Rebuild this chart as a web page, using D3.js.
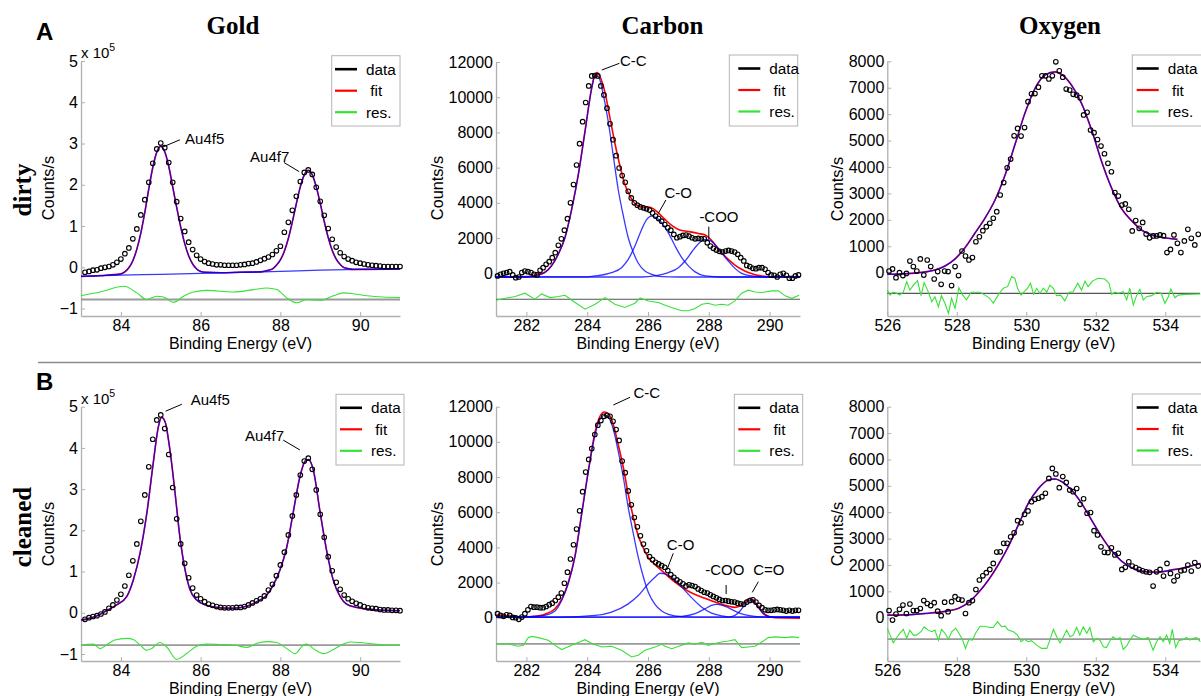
<!DOCTYPE html>
<html><head><meta charset="utf-8">
<script src="https://cdn.jsdelivr.net/npm/d3@7"></script>
<style>
body{margin:0;background:#fff;}
svg{display:block;}
text{font-family:"Liberation Sans",Arial,Helvetica,sans-serif;}
.serif{font-family:"Liberation Serif","Times New Roman",serif;font-weight:bold;}
</style></head>
<body>
<svg id="chart" width="1201" height="696"></svg>
<script>
// ---------------- DATA ----------------
const columnTitles = ["Gold", "Carbon", "Oxygen"];
const rowLabels = ["dirty", "cleaned"];
const panelLetters = ["A", "B"];
const legendLabels = ["data", " fit", "res."];

const goldTicksX = [84, 86, 88, 90];
const goldTicksY = [-1, 0, 1, 2, 3, 4, 5];
const carbonTicksX = [282, 284, 286, 288, 290];
const carbonTicksY = [0, 2000, 4000, 6000, 8000, 10000, 12000];
const oxygenTicksX = [526, 528, 530, 532, 534];
const oxygenTicksY = [0, 1000, 2000, 3000, 4000, 5000, 6000, 7000, 8000];

// measured energy grids (scan start, step, count)
const goldScan = [83.1, 0.1, 80];
const carbonScan = [281.05, 0.1, 100];
const oxygenScan = [526.05, 0.1, 90];

// Gold (x 10^5 counts/s)
const goldDirtyCounts = [-0.12,-0.10,-0.07,-0.06,-0.02,0.00,0.02,0.06,0.12,0.20,
 0.33,0.47,0.69,0.93,1.27,1.64,2.06,2.52,2.87,3.01,
 2.90,2.54,2.06,1.59,1.18,0.87,0.61,0.43,0.29,0.20,
 0.14,0.10,0.08,0.06,0.06,0.05,0.05,0.05,0.05,0.06,
 0.07,0.09,0.10,0.13,0.17,0.21,0.25,0.31,0.40,0.51,
 0.85,1.09,1.38,1.72,2.08,2.30,2.36,2.25,1.94,1.60,
 1.26,0.94,0.68,0.49,0.35,0.26,0.20,0.16,0.12,0.10,
 0.08,0.06,0.05,0.04,0.03,0.02,0.02,0.02,0.02,0.02];
const goldDirtyFit = [[83.0,-0.22],[83.5,-0.20],[84.0,-0.16],[84.1,-0.11],[84.2,-0.01],[84.3,0.16],[84.4,0.44],[84.5,0.83],[84.6,1.33],[84.7,1.90],[84.8,2.42],[84.9,2.79],[85.0,2.93],[85.1,2.80],[85.2,2.45],[85.3,1.95],[85.4,1.45],[85.5,0.98],[85.6,0.58],[85.7,0.28],[85.8,0.08],[85.9,-0.04],[86.0,-0.10],[86.1,-0.12],[86.5,-0.13],[87.0,-0.12],[87.5,-0.11],[87.7,-0.07],[87.8,-0.04],[87.9,0.05],[88.0,0.18],[88.1,0.39],[88.2,0.70],[88.3,1.10],[88.4,1.54],[88.5,1.95],[88.6,2.24],[88.7,2.35],[88.8,2.24],[88.9,1.95],[89.0,1.55],[89.1,1.11],[89.2,0.72],[89.3,0.41],[89.4,0.20],[89.5,0.07],[89.6,-0.01],[89.7,-0.03],[89.8,-0.05],[90.0,-0.05],[91.0,-0.04]];
const goldDirtyBackground = [[83.0,-0.22],[84.0,-0.19],[85.0,-0.17],[86.0,-0.145],[87.0,-0.125],[88.0,-0.10],[89.0,-0.07],[90.0,-0.05],[91.0,-0.04]];
const goldDirtyRes = [[83.0,-0.69],[83.48,-0.60],[84.08,-0.46],[84.40,-0.62],[84.65,-0.78],[84.90,-0.70],[85.07,-0.72],[85.32,-0.85],[85.57,-0.70],[85.82,-0.60],[86.15,-0.56],[86.82,-0.60],[87.32,-0.54],[87.66,-0.50],[87.91,-0.54],[88.16,-0.74],[88.41,-0.86],[88.66,-0.78],[89.0,-0.80],[89.33,-0.69],[89.58,-0.62],[89.83,-0.64],[90.17,-0.69],[90.58,-0.72],[91.0,-0.73]];
const goldDirtyZero = -0.78;

const goldCleanCounts = [-0.16,-0.12,-0.09,-0.07,-0.03,0.02,0.11,0.19,0.31,0.45,
 0.65,0.91,1.26,1.67,2.22,2.86,3.54,4.21,4.68,4.80,
 4.47,3.84,3.04,2.28,1.67,1.20,0.85,0.60,0.43,0.34,
 0.27,0.21,0.18,0.15,0.13,0.12,0.12,0.12,0.13,0.13,
 0.15,0.19,0.24,0.29,0.34,0.41,0.55,0.69,0.90,1.16,
 1.47,1.89,2.35,2.86,3.34,3.68,3.75,3.48,2.98,2.39,
 1.83,1.36,1.02,0.74,0.57,0.43,0.34,0.28,0.23,0.19,
 0.15,0.12,0.11,0.10,0.08,0.07,0.07,0.06,0.06,0.05];
const goldCleanFit = [[83.0,-0.18],[83.39,-0.08],[83.64,0.05],[83.89,0.19],[84.15,0.40],[84.31,0.79],[84.48,1.44],[84.65,2.41],[84.81,3.62],[84.94,4.51],[85.02,4.74],[85.11,4.63],[85.23,3.95],[85.36,2.90],[85.48,1.84],[85.61,1.04],[85.73,0.57],[85.90,0.31],[86.15,0.18],[86.49,0.12],[86.82,0.11],[87.16,0.16],[87.41,0.27],[87.66,0.43],[87.82,0.67],[87.99,1.04],[88.16,1.59],[88.33,2.48],[88.49,3.30],[88.62,3.68],[88.70,3.72],[88.83,3.45],[88.99,2.48],[89.16,1.51],[89.33,0.78],[89.50,0.39],[89.66,0.21],[89.91,0.13],[90.33,0.08],[91.0,0.05]];
const goldCleanRes = [[83.0,-0.78],[83.31,-0.76],[83.48,-0.87],[83.64,-0.78],[83.85,-0.66],[84.15,-0.62],[84.31,-0.65],[84.48,-0.78],[84.65,-0.91],[84.77,-0.87],[84.98,-0.72],[85.15,-0.83],[85.40,-1.13],[85.65,-0.99],[85.90,-0.81],[86.15,-0.76],[86.49,-0.77],[86.82,-0.78],[87.16,-0.84],[87.41,-0.74],[87.66,-0.70],[87.91,-0.72],[88.16,-0.87],[88.37,-0.99],[88.58,-0.78],[88.66,-0.76],[88.83,-0.87],[89.08,-0.99],[89.33,-0.89],[89.58,-0.76],[89.75,-0.71],[90.0,-0.72],[90.33,-0.76],[90.67,-0.78],[91.0,-0.78]];
const goldCleanZero = -0.785;

// Carbon (counts/s)
const carbonDirtyCounts = [-150,-60,0,40,90,-90,-250,-210,40,130,
 90,40,-60,-90,170,320,510,660,890,1170,
 1590,1960,2450,3100,4000,5040,6150,7360,8610,9700,
 10640,11210,11230,11210,10640,10130,9380,8490,7590,6680,
 5980,5550,5170,4660,4280,4000,3870,3770,3720,3660,
 3590,3430,3250,3110,2960,2770,2590,2450,2210,2020,
 2080,2150,2170,2110,2020,1960,1980,1960,1960,1740,
 1550,1420,1320,1250,1210,1260,1300,1260,1210,1080,
 890,700,450,380,280,260,320,320,230,40,
 -90,-110,-210,-60,0,-110,-280,-280,-150,-90];
const carbonDirtyFit = [[281.0,-210],[282.06,-190],[282.39,-60],[282.61,60],[282.83,440],[283.05,1100],[283.27,2050],[283.49,3660],[283.71,5640],[283.93,8100],[284.15,10560],[284.26,11320],[284.33,11400],[284.42,11170],[284.59,10230],[284.75,8810],[284.91,7400],[285.08,6080],[285.24,5040],[285.41,4380],[285.57,3960],[285.79,3770],[286.01,3760],[286.18,3660],[286.34,3430],[286.56,3060],[286.78,2720],[287.0,2490],[287.22,2400],[287.44,2340],[287.66,2260],[287.88,2170],[288.04,1960],[288.20,1640],[288.42,1170],[288.64,790],[288.86,470],[289.08,230],[289.30,40],[289.52,-80],[289.74,-150],[290.07,-210],[291.0,-210]];
const carbonDirtyCC = [[281.0,-210],[282.0,-200],[282.3,-150],[282.61,40],[282.83,420],[283.05,1080],[283.27,2020],[283.49,3620],[283.71,5600],[283.93,8060],[284.15,10510],[284.26,11230],[284.37,11170],[284.53,10130],[284.70,8530],[284.86,6640],[285.02,4760],[285.19,3250],[285.35,2020],[285.52,1170],[285.68,570],[285.90,130],[286.12,-60],[286.45,-190],[287.0,-210],[291.0,-210]];
const carbonDirtyCO = [[281.0,-210],[284.0,-200],[284.26,-150],[284.80,40],[285.13,320],[285.35,790],[285.57,1550],[285.79,2490],[285.96,3060],[286.10,3250],[286.23,3190],[286.45,2870],[286.67,2300],[286.89,1550],[287.11,890],[287.33,420],[287.55,80],[287.88,-150],[288.42,-210],[291.0,-210]];
const carbonDirtyCOO = [[281.0,-210],[285.8,-210],[286.23,-150],[286.67,40],[287.0,320],[287.22,700],[287.44,1210],[287.66,1680],[287.88,1930],[288.04,1870],[288.20,1640],[288.42,1170],[288.64,700],[288.86,280],[289.08,0],[289.41,-150],[289.96,-210],[291.0,-210]];
const carbonDirtyRes = [[281.0,-1530],[281.30,-1420],[281.63,-1320],[281.95,-1130],[282.28,-1470],[282.50,-1170],[282.78,-1380],[283.05,-1320],[283.27,-1250],[283.60,-1660],[283.93,-2040],[284.26,-1760],[284.59,-1380],[284.91,-1760],[285.24,-1940],[285.57,-1700],[285.74,-1400],[286.01,-1570],[286.34,-1660],[286.67,-1890],[287.11,-2130],[287.33,-2130],[287.55,-2000],[287.77,-1760],[287.98,-1700],[288.20,-1810],[288.42,-1760],[288.64,-1810],[288.86,-1570],[289.08,-1130],[289.30,-960],[289.52,-1060],[289.74,-1090],[290.07,-1000],[290.29,-1000],[290.51,-1280],[290.73,-1420],[290.97,-1250]];
const carbonDirtyZero = -1470;

const carbonCleanCounts = [230,130,80,170,130,20,0,-90,40,230,
 450,640,600,600,570,570,640,740,830,980,
 1170,1400,1960,2590,3340,4150,5040,6080,7170,8280,
 9000,9620,10420,10950,11210,11450,11510,11450,11170,10700,
 10080,8910,8250,7210,6420,5700,5170,4660,4190,3810,
 3470,3300,3150,3060,2960,2870,2680,2450,2300,2150,
 2040,1930,1810,1870,1830,1770,1640,1550,1450,1400,
 1300,1210,1130,1040,980,980,940,910,890,830,
 790,760,890,980,1020,890,700,570,450,420,
 420,450,470,450,420,380,420,380,420,420];
const carbonCleanFit = [[281.0,150],[281.41,100],[281.84,40],[282.17,70],[282.61,200],[282.94,510],[283.16,1040],[283.38,2020],[283.60,3530],[283.82,5950],[284.04,8400],[284.26,10560],[284.42,11450],[284.56,11700],[284.70,11590],[284.86,10980],[285.02,9850],[285.19,8530],[285.35,7020],[285.52,5700],[285.68,4660],[285.85,3960],[286.01,3430],[286.23,3020],[286.45,2680],[286.67,2340],[286.89,2020],[287.11,1740],[287.33,1510],[287.55,1320],[287.77,1170],[287.98,1040],[288.20,890],[288.42,760],[288.64,660],[288.86,590],[289.08,720],[289.25,980],[289.36,1110],[289.46,1020],[289.63,640],[289.79,260],[289.96,80],[290.18,0],[291.0,-20]];
const carbonCleanCC = [[281.0,40],[282.0,50],[282.61,130],[282.94,380],[283.16,980],[283.38,1960],[283.60,3470],[283.82,5890],[284.04,8340],[284.26,10420],[284.42,11270],[284.56,11510],[284.70,11400],[284.86,10700],[285.02,9470],[285.19,7960],[285.35,6270],[285.52,4760],[285.68,3430],[285.85,2300],[286.01,1450],[286.23,760],[286.45,380],[286.67,190],[287.11,60],[287.55,40],[291.0,40]];
const carbonCleanCO = [[281.0,40],[283.16,40],[284.26,130],[284.80,320],[285.35,790],[285.68,1260],[286.01,1930],[286.23,2300],[286.39,2530],[286.56,2490],[286.78,2300],[287.11,1740],[287.44,1130],[287.77,600],[288.09,260],[288.42,110],[288.86,40],[291.0,40]];
const carbonCleanCOO = [[281.0,40],[286.6,40],[287.11,80],[287.55,230],[287.88,510],[288.09,700],[288.26,760],[288.42,720],[288.64,570],[288.86,380],[289.14,190],[289.52,80],[289.96,40],[291.0,40]];
const carbonCleanCdO = [[281.0,40],[288.64,40],[288.86,130],[289.03,380],[289.19,760],[289.36,1020],[289.50,890],[289.63,570],[289.79,230],[289.96,80],[290.18,40],[291.0,40]];
const carbonCleanRes = [[281.0,-1490],[281.41,-1490],[281.73,-1620],[281.90,-1570],[282.06,-1130],[282.17,-1060],[282.39,-1130],[282.72,-1280],[282.94,-1570],[283.16,-1810],[283.49,-1570],[283.82,-1320],[283.93,-1250],[284.15,-1470],[284.48,-1660],[284.80,-1620],[285.13,-1850],[285.46,-2230],[285.68,-2130],[285.90,-1850],[286.23,-1660],[286.45,-1510],[286.56,-1620],[286.78,-1760],[287.11,-1570],[287.33,-1430],[287.55,-1510],[287.77,-1380],[287.98,-1570],[288.20,-1470],[288.42,-1380],[288.64,-1320],[288.86,-1250],[289.08,-1700],[289.30,-1660],[289.52,-1620],[289.74,-1380],[289.96,-1130],[290.18,-1090],[290.51,-1130],[290.73,-1090],[290.97,-1130]];
const carbonCleanZero = -1490;

// Oxygen (counts/s)
const oxygenDirtyCounts = [60,140,-190,0,-110,-30,440,230,60,520,
 -90,480,230,-240,40,-440,60,40,-490,230,
 -110,820,630,480,570,1170,1360,1590,1740,1870,
 2060,2310,2940,3410,3970,4300,5180,5460,5170,5490,
 6470,6770,6780,7020,7450,7450,7330,7450,7980,7640,
 7400,6950,6910,6750,6720,6620,5970,6070,5400,5300,
 5040,4790,4500,4140,3820,3030,2900,2560,2600,2400,
 1580,1970,1680,1900,1460,1320,1390,1390,1430,1400,
 760,880,1430,1110,760,1200,1640,1300,1050,1450];
const oxygenDirtyFit = [[526.0,-60],[526.51,-40],[526.99,10],[527.37,100],[527.66,250],[527.95,520],[528.24,950],[528.52,1490],[528.81,2060],[529.10,2750],[529.39,3700],[529.67,4830],[529.96,6030],[530.25,6970],[530.54,7480],[530.83,7600],[531.02,7500],[531.30,7100],[531.59,6410],[531.88,5400],[532.17,4200],[532.46,3190],[532.74,2430],[533.03,1970],[533.32,1610],[533.61,1430],[533.89,1340],[534.09,1300],[534.35,1260]];
const oxygenDirtyRes = [[526.00,-660],[526.08,-850],[526.17,-740],[526.27,-780],[526.36,-850],[526.46,-740],[526.56,-340],[526.65,-660],[526.75,-470],[526.87,-300],[526.97,-870],[527.06,-380],[527.16,-660],[527.28,-1100],[527.37,-910],[527.47,-1290],[527.56,-870],[527.66,-1160],[527.76,-1540],[527.85,-970],[527.95,-1350],[528.06,-570],[528.17,-850],[528.28,-1030],[528.41,-740],[528.52,-740],[528.67,-740],[528.81,-850],[528.95,-970],[529.05,-1160],[529.19,-850],[529.34,-590],[529.46,-530],[529.58,-150],[529.67,-210],[529.75,-590],[529.85,-850],[529.94,-720],[530.04,-590],[530.12,-400],[530.21,-820],[530.30,-590],[530.39,-780],[530.49,-590],[530.59,-740],[530.68,-470],[530.78,-590],[530.87,-870],[530.99,-850],[531.11,-1070],[531.23,-740],[531.35,-720],[531.48,-400],[531.59,-660],[531.69,-320],[531.78,-530],[531.90,-320],[532.07,-210],[532.26,-240],[532.38,-400],[532.46,-820],[532.55,-740],[532.65,-780],[532.79,-720],[532.89,-1030],[532.98,-590],[533.08,-1220],[533.18,-850],[533.27,-630],[533.37,-1030],[533.46,-910],[533.61,-870],[533.75,-740],[533.88,-780],[533.99,-1160],[534.09,-910],[534.16,-620],[534.28,-950],[534.37,-850],[534.57,-820],[535.01,-810]];
const oxygenDirtyZero = -780;

const oxygenCleanCounts = [270,-90,140,320,480,160,520,270,270,350,
 650,540,460,570,250,80,590,230,610,800,
 700,670,160,570,650,1070,1430,1590,1710,1830,
 2060,2490,2500,2820,2820,3070,3220,3680,3600,3920,
 4050,4400,4490,4530,4590,4720,5280,5660,5450,4930,
 5350,5130,4840,4780,4900,4300,4510,3960,3990,3300,
 3140,2690,2480,2470,2650,2380,2440,1830,1910,2120,
 1960,1900,1830,1780,1740,1720,1200,1740,1830,1580,
 2060,1680,1400,1580,1780,1810,2000,1770,2090,1960];
const oxygenCleanFit = [[526.0,100],[526.51,110],[527.08,160],[527.66,240],[528.04,350],[528.33,570],[528.62,950],[528.91,1430],[529.19,2000],[529.48,2690],[529.77,3510],[530.06,4340],[530.35,4900],[530.63,5220],[530.83,5260],[531.02,5160],[531.30,4840],[531.59,4340],[531.88,3700],[532.17,3070],[532.46,2540],[532.74,2150],[533.03,1900],[533.32,1770],[533.61,1730],[533.89,1740],[534.18,1810],[534.47,1870],[534.76,1970],[535.01,2060]];
const oxygenCleanRes = [[526.00,-400],[526.08,-660],[526.17,-950],[526.27,-750],[526.36,-590],[526.46,-440],[526.56,-780],[526.65,-470],[526.75,-660],[526.84,-660],[526.97,-530],[527.06,-340],[527.18,-470],[527.28,-530],[527.37,-470],[527.47,-850],[527.56,-440],[527.66,-590],[527.76,-820],[527.85,-530],[527.97,-400],[528.06,-590],[528.16,-820],[528.25,-1160],[528.35,-820],[528.45,-850],[528.54,-590],[528.67,-320],[528.81,-320],[528.95,-370],[529.05,-370],[529.17,-150],[529.29,-340],[529.39,-320],[529.48,-470],[529.63,-530],[529.75,-660],[529.85,-910],[529.94,-820],[530.06,-910],[530.15,-870],[530.30,-1040],[530.44,-1160],[530.59,-1160],[530.68,-850],[530.78,-440],[530.87,-700],[530.97,-950],[531.06,-750],[531.16,-470],[531.26,-720],[531.35,-660],[531.45,-370],[531.54,-660],[531.64,-340],[531.74,-590],[531.83,-370],[531.93,-910],[532.02,-780],[532.12,-850],[532.22,-1100],[532.31,-1130],[532.41,-870],[532.50,-720],[532.60,-820],[532.70,-750],[532.79,-1200],[532.89,-1070],[532.98,-850],[533.08,-660],[533.22,-750],[533.37,-820],[533.51,-750],[533.65,-1230],[533.75,-910],[533.85,-720],[533.94,-910],[534.04,-660],[534.13,-970],[534.20,-440],[534.30,-1130],[534.39,-870],[534.52,-820],[534.61,-750],[534.71,-850],[534.80,-780],[534.90,-750],[535.01,-910]];
const oxygenCleanZero = -810;

// Peak annotations: label, text anchor (x,y), leader line (x1,y1)-(x2,y2), in data units
const goldDirtyNotes = [["Au4f5",85.61,3.0,85.06,2.92,85.48,3.09],["Au4f7",87.24,2.55,88.09,2.54,88.47,2.32]];
const goldCleanNotes = [["Au4f5",85.75,5.05,85.12,4.89,85.53,5.06],["Au4f7",87.11,4.17,88.07,4.19,88.49,3.95]];
const carbonDirtyNotes = [["C-C",285.08,11800,284.48,11545,285.06,11926],["C-O",286.54,4276,286.34,3407,286.59,4163],["-COO",287.69,2885,288.0,2646,288.0,1931]];
const carbonCleanNotes = [["C-C",285.52,12468,284.86,12098,285.41,12536],["C-O",286.62,3834,286.62,2713,286.83,3663],["-COO",287.88,2457,288.57,1860,288.57,1348],["C=O",289.46,2457,289.43,1445,289.63,2048]];

// ---------------- DRAWING ----------------
const svg = d3.select("#chart");
const scanGrid = s => d3.range(s[2]).map(i => +(s[0] + s[1] * i).toFixed(3));
const pairUp = (s, vals) => scanGrid(s).map((e, i) => [e, vals[i]]);

const SANS = '"Liberation Sans",Arial,Helvetica,sans-serif';
const GREEN = "#36e236";

const panels = [
 {left:81, right:400, top:61, bottom:316, xdom:[83,91], ydom:[-1.18,5], xt:goldTicksX, yt:goldTicksY,
  data:pairUp(goldScan, goldDirtyCounts), fit:goldDirtyFit, comps:[goldDirtyFit, goldDirtyBackground], res:goldDirtyRes, zero:goldDirtyZero,
  zeroStyle:["#9a9a9a",2], notes:goldDirtyNotes, leg:[331.7,55.7,68.3,70.3,335], ylab:[54,188], exp:true, resCurve:d3.curveMonotoneX},
 {left:81, right:400, top:406.7, bottom:661, xdom:[83,91], ydom:[-1.17,5], xt:goldTicksX, yt:goldTicksY,
  data:pairUp(goldScan, goldCleanCounts), fit:goldCleanFit, comps:[goldCleanFit], res:goldCleanRes, zero:goldCleanZero,
  zeroStyle:["#9a9a9a",1.8], notes:goldCleanNotes, leg:[336,394.3,68,70.7,340], ylab:[54,534], exp:true, resCurve:d3.curveMonotoneX},
 {left:496, right:800, top:62, bottom:316, xdom:[281,291], ydom:[-2425,12000], xt:carbonTicksX, yt:carbonTicksY,
  data:pairUp(carbonScan, carbonDirtyCounts), fit:carbonDirtyFit, comps:[carbonDirtyCC, carbonDirtyCO, carbonDirtyCOO], res:carbonDirtyRes, zero:carbonDirtyZero,
  zeroStyle:["#555",1.1], notes:carbonDirtyNotes, leg:[729.3,55,68.4,71,738.3], ylab:[443,188], exp:false, resCurve:d3.curveLinear},
 {left:496, right:800, top:406.7, bottom:661, xdom:[281,291], ydom:[-2460,12000], xt:carbonTicksX, yt:carbonTicksY,
  data:pairUp(carbonScan, carbonCleanCounts), fit:carbonCleanFit, comps:[carbonCleanCC, carbonCleanCO, carbonCleanCOO, carbonCleanCdO], res:carbonCleanRes, zero:carbonCleanZero,
  zeroStyle:["#9a9a9a",1.8], notes:carbonCleanNotes, leg:[734.3,394.3,68.4,70.7,738.3], ylab:[443,534], exp:false, resCurve:d3.curveLinear},
 {left:887.3, right:1200, top:61.3, bottom:316, xdom:[526,535], ydom:[-1640,8000], xt:oxygenTicksX, yt:oxygenTicksY,
  data:pairUp(oxygenScan, oxygenDirtyCounts), fit:oxygenDirtyFit, comps:[oxygenDirtyFit], res:oxygenDirtyRes, zero:oxygenDirtyZero,
  zeroStyle:["#555",1.2], notes:[], leg:[1132.3,55,80,71,1136.7], ylab:[843,189], exp:false, resCurve:d3.curveLinear},
 {left:887.3, right:1200, top:406.7, bottom:661, xdom:[526,535], ydom:[-1640,8000], xt:oxygenTicksX, yt:oxygenTicksY,
  data:pairUp(oxygenScan, oxygenCleanCounts), fit:oxygenCleanFit, comps:[oxygenCleanFit], res:oxygenCleanRes, zero:oxygenCleanZero,
  zeroStyle:["#9a9a9a",1.8], notes:[], leg:[1132.3,394,80,71,1136.7], ylab:[843,534], exp:false, resCurve:d3.curveLinear}
];

panels.forEach(p => {
  const g = svg.append("g");
  const x = d3.scaleLinear().domain(p.xdom).range([p.left, p.right]);
  const y = d3.scaleLinear().domain(p.ydom).range([p.bottom, p.top]);
  const line = d3.line().x(d => x(d[0])).y(d => y(d[1])).curve(d3.curveMonotoneX);

  // axes
  const xa = g.append("g").attr("transform", `translate(0,${p.bottom})`)
    .call(d3.axisBottom(x).tickValues(p.xt).tickFormat(d3.format("d")).tickSizeInner(-4).tickSizeOuter(0).tickPadding(4));
  const ya = g.append("g").attr("transform", `translate(${p.left},0)`)
    .call(d3.axisLeft(y).tickValues(p.yt).tickFormat(d3.format("d")).tickSizeInner(-4).tickSizeOuter(0).tickPadding(3));
  [xa, ya].forEach(a => {
    a.select(".domain").attr("stroke", "#b0b0b0").attr("stroke-width", 1.3);
    a.selectAll(".tick line").attr("stroke", "#b0b0b0");
    a.selectAll("text").attr("fill", "#000").style("font-family", SANS).style("font-size", "16px");
  });
  xa.selectAll("text").attr("dy", "0.68em");

  // fit (red) and components (blue, translucent -> purple where they coincide)
  g.append("path").datum(p.fit).attr("d", line).attr("fill", "none").attr("stroke", "#ff0000").attr("stroke-width", 1.6);
  p.comps.forEach(c => {
    g.append("path").datum(c).attr("d", line).attr("fill", "none").attr("stroke", "#0000ff")
      .attr("stroke-opacity", 0.78).attr("stroke-width", 1.3);
  });

  // residual
  g.append("line").attr("x1", x(p.xdom[0])).attr("x2", x(p.xdom[1])).attr("y1", y(p.zero)).attr("y2", y(p.zero))
    .attr("stroke", p.zeroStyle[0]).attr("stroke-width", p.zeroStyle[1]);
  g.append("path").datum(p.res).attr("d", d3.line().x(d => x(d[0])).y(d => y(d[1])).curve(p.resCurve))
    .attr("fill", "none").attr("stroke", GREEN).attr("stroke-width", 1.1);

  // data circles
  g.append("g").selectAll("circle").data(p.data).join("circle")
    .attr("cx", d => x(d[0])).attr("cy", d => y(d[1])).attr("r", 2.3)
    .attr("fill", "none").attr("stroke", "#000").attr("stroke-width", 1.1);

  // annotations
  p.notes.forEach(n => {
    g.append("line").attr("x1", x(n[3])).attr("y1", y(n[4])).attr("x2", x(n[5])).attr("y2", y(n[6]))
      .attr("stroke", "#000").attr("stroke-width", 1);
    g.append("text").attr("x", x(n[1])).attr("y", y(n[2])).text(n[0])
      .style("font-size", "15px").attr("fill", "#000");
  });

  // legend
  const [bx, by, bw, bh, lx] = p.leg;
  const lg = g.append("g");
  lg.append("rect").attr("x", bx).attr("y", by).attr("width", bw).attr("height", bh)
    .attr("fill", "#fff").attr("stroke", "#b4b4b4").attr("stroke-width", 1);
  const legColors = ["#000", "#ff0000", GREEN];
  const legWidths = [2.6, 2.2, 2.2];
  legendLabels.forEach((lab, i) => {
    const ly = by + 13.5 + i * 21.5;
    lg.append("line").attr("x1", lx).attr("x2", lx + 22).attr("y1", ly).attr("y2", ly)
      .attr("stroke", legColors[i]).attr("stroke-width", legWidths[i]);
    lg.append("text").attr("x", lx + 31).attr("y", ly).attr("dy", "0.36em").text(lab)
      .style("font-size", "15.3px").style("white-space", "pre").attr("fill", "#000");
  });

  // axis titles
  g.append("text").attr("x", (p.left + p.right) / 2).attr("y", p.bottom + 33).attr("text-anchor", "middle")
    .text("Binding Energy (eV)").style("font-size", "16px");
  g.append("text").attr("transform", `translate(${p.ylab[0]},${p.ylab[1]}) rotate(-90)`).attr("text-anchor", "middle")
    .text("Counts/s").style("font-size", "16.3px");

  if (p.exp) {
    const ex = g.append("text").attr("x", p.left).attr("y", p.top - 3).style("font-size", "15px");
    ex.append("tspan").text("x 10");
    ex.append("tspan").attr("dy", "-7").style("font-size", "10.5px").text("5");
  }
});

// column titles, panel letters and row labels
const titleX = [233, 662.5, 1060];
columnTitles.forEach((t, i) => {
  svg.append("text").attr("class", "serif").attr("x", titleX[i]).attr("y", 33.5).attr("text-anchor", "middle")
    .style("font-size", "25px").text(t);
});
const letterY = [39.5, 390];
panelLetters.forEach((t, i) => {
  svg.append("text").attr("x", 36).attr("y", letterY[i]).style("font-size", "24px").style("font-weight", "bold").text(t);
});
const rowY = [190, 527];
rowLabels.forEach((t, i) => {
  svg.append("text").attr("class", "serif").attr("transform", `translate(31,${rowY[i]}) rotate(-90)`)
    .attr("text-anchor", "middle").style("font-size", "25px").text(t);
});
svg.append("line").attr("x1", 38).attr("x2", 1201).attr("y1", 362.5).attr("y2", 362.5)
  .attr("stroke", "#8c8c8c").attr("stroke-width", 1.4);
</script>
</body></html>
